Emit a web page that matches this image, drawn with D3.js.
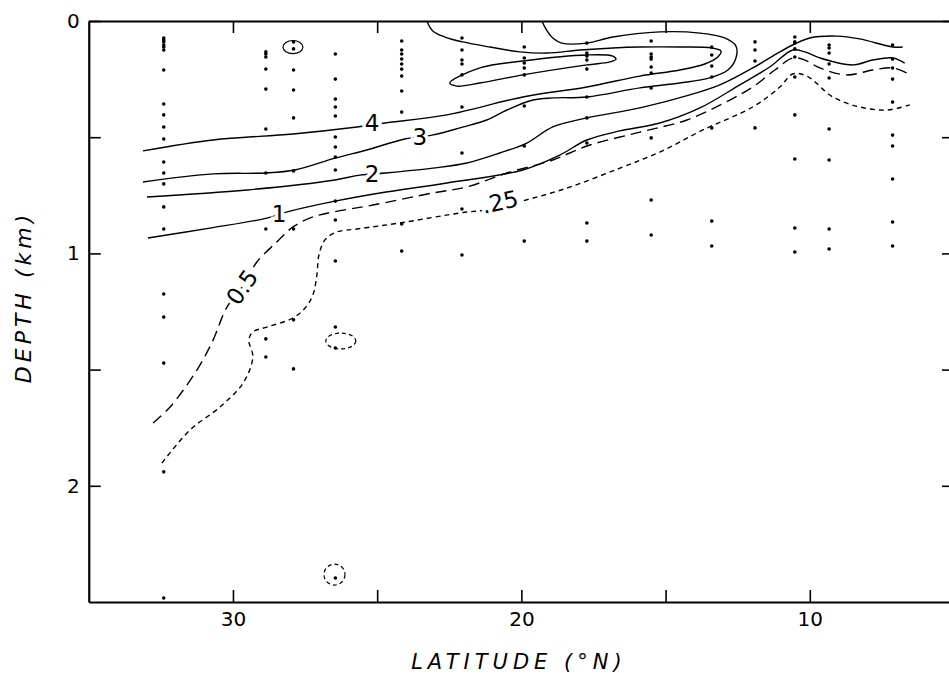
<!DOCTYPE html>
<html>
<head>
<meta charset="utf-8">
<script src="https://cdn.jsdelivr.net/npm/d3@7"></script>
<style>
  body { margin: 0; background: #fff; }
  text { font-family: "DejaVu Sans", sans-serif; fill: #000; }
</style>
</head>
<body>
<script>
// axis ticks
var xTicks = [30, 25, 20, 15, 10];
var yTicks = [0, 0.5, 1, 1.5, 2];

// station latitudes and sample depths (km)
var stationLat = [32.4, 28.86, 27.9, 26.45, 24.15, 22.06, 19.9, 17.73, 15.5, 13.4, 11.9, 10.52, 9.33, 7.13];
var stationDepths = [
    [0.073, 0.082, 0.090, 0.103, 0.112, 0.125, 0.211, 0.357, 0.404, 0.456, 0.508, 0.607, 0.654, 0.701, 0.800, 0.895, 1.175, 1.274, 1.472, 1.94, 2.483],
    [0.133, 0.142, 0.155, 0.207, 0.293, 0.465, 0.654, 0.895, 1.368, 1.446],
    [0.090, 0.120, 0.211, 0.297, 0.417, 0.645, 0.895, 1.286, 1.497],
    [0.142, 0.250, 0.336, 0.370, 0.409, 0.499, 0.542, 0.585, 0.641, 0.775, 0.856, 1.033, 1.317, 1.407, 2.397],
    [0.086, 0.125, 0.142, 0.164, 0.185, 0.207, 0.237, 0.301, 0.392, 0.873, 0.990],
    [0.073, 0.125, 0.168, 0.185, 0.232, 0.370, 0.568, 0.809, 1.007],
    [0.112, 0.159, 0.181, 0.202, 0.232, 0.366, 0.538, 0.947],
    [0.095, 0.138, 0.151, 0.168, 0.207, 0.327, 0.417, 0.525, 0.869, 0.947],
    [0.086, 0.142, 0.155, 0.164, 0.198, 0.224, 0.288, 0.503, 0.770, 0.921],
    [0.112, 0.146, 0.194, 0.241, 0.460, 0.861, 0.968],
    [0.090, 0.125, 0.172, 0.460],
    [0.069, 0.090, 0.095, 0.120, 0.155, 0.241, 0.404, 0.594, 0.891, 0.994],
    [0.103, 0.116, 0.138, 0.185, 0.245, 0.465, 0.598, 0.895, 0.981],
    [0.103, 0.164, 0.202, 0.250, 0.349, 0.491, 0.538, 0.680, 0.865, 0.968]
];

// contours as [latitude, depth]
var contour4 = [[33.12,0.559],[30.69,0.512],[27.92,0.486],[25.70,0.456],[24.73,0.439],[22.58,0.404],[19.95,0.327],
    [17.73,0.284],[15.89,0.237],[14.51,0.211],[13.64,0.185],[13.19,0.155],[13.08,0.129],[13.40,0.116],[14.51,0.112],
    [15.89,0.112],[16.83,0.116],[17.97,0.125],[19.12,0.138],[20.05,0.133],[21.09,0.112],[22.03,0.090],[22.65,0.069],
    [23.07,0.043],[23.28,0]];
var contour3 = [[33.12,0.693],[30.69,0.658],[28.89,0.654],[27.85,0.641],[26.46,0.590],[25.36,0.555],[24.04,0.508],
    [23.10,0.491],[22.13,0.460],[21.20,0.426],[20.50,0.383],[19.60,0.340],[18.91,0.331],[17.73,0.327],[15.89,0.288],
    [14.51,0.267],[13.47,0.245],[12.84,0.211],[12.56,0.159],[12.56,0.108],[12.95,0.073],[13.81,0.052],[15.20,0.047],
    [16.83,0.069],[17.73,0.095],[18.60,0.095],[18.91,0.073],[19.15,0.034],[19.29,0]];
var contour2 = [[32.98,0.757],[29.51,0.727],[26.46,0.684],[25.60,0.663],[24.73,0.654],[23.07,0.633],[21.89,0.611],
    [20.75,0.568],[19.81,0.525],[18.91,0.456],[17.73,0.417],[15.89,0.374],[14.16,0.318],[13.12,0.275],[11.98,0.202],
    [11.04,0.133],[10.52,0.099],[10.0,0.073],[9.06,0.065],[8.27,0.077],[7.12,0.112],[6.78,0.112]];
var contour1 = [[32.95,0.934],[30.80,0.891],[28.82,0.848],[28.02,0.818],[26.46,0.775],[24.90,0.740],[22.58,0.697],
    [19.95,0.641],[18.67,0.577],[17.73,0.512],[16.59,0.473],[15.20,0.439],[13.81,0.374],[12.43,0.275],[11.39,0.198],
    [10.59,0.125],[10.17,0.133],[9.65,0.159],[8.51,0.189],[7.82,0.168],[7.12,0.159],[6.71,0.181]];
var contour05 = [[32.77,1.730],[32.18,1.661],[31.25,1.502],[30.69,1.373],[30.21,1.231],[29.68,1.145],[29.17,1.037],
    [28.48,0.951],[27.92,0.886],[27.23,0.843],[26.53,0.822],[25.15,0.792],[23.07,0.740],[21.89,0.714],[20.50,0.654],
    [18.91,0.598],[17.73,0.538],[15.89,0.478],[14.26,0.426],[12.77,0.340],[11.98,0.284],[11.21,0.211],[10.59,0.159],
    [10.17,0.168],[9.65,0.202],[8.72,0.232],[7.82,0.211],[7.12,0.202],[6.64,0.224]];
var contour025 = [[32.46,1.902],[31.49,1.760],[30.45,1.661],[29.65,1.558],[29.31,1.446],[29.45,1.373],[29.31,1.338],
    [28.82,1.317],[27.92,1.278],[27.50,1.235],[27.23,1.179],[27.09,1.093],[27.02,1.007],[26.81,0.942],[26.40,0.908],
    [25.70,0.895],[24.21,0.869],[22.13,0.826],[21.27,0.813],[20.23,0.783],[18.42,0.719],[16.58,0.633],[15.20,0.564],
    [13.71,0.469],[11.98,0.370],[11.04,0.284],[10.59,0.228],[10.10,0.237],[9.20,0.327],[8.27,0.370],[7.33,0.383],
    [6.53,0.361]];
var loop5 = [[22.48,0.267],[21.44,0.202],[19.95,0.172],[17.73,0.146],[16.83,0.151],[16.72,0.164],[16.93,0.176],
    [17.73,0.189],[19.95,0.232],[21.44,0.267],[22.24,0.280]];

var contourLabels = [
    {text: "4", lat: 25.18, depth: 0.439, angle: 0},
    {text: "3", lat: 23.52, depth: 0.499, angle: 0},
    {text: "2", lat: 25.18, depth: 0.658, angle: 0},
    {text: "1", lat: 28.40, depth: 0.830, angle: 0},
    {text: "0.5", lat: 29.68, depth: 1.145, angle: -55},
    {text: ".25", lat: 20.74, depth: 0.779, angle: -12}
];

// circled samples: [lat, depth, rLat, rDepth, dashed]
var circles = [
    [27.92, 0.112, 0.347, 0.028, false],
    [26.26, 1.377, 0.52, 0.034, true],
    [26.48, 2.382, 0.364, 0.045, true]
];

var width = 949, height = 673;

var x = d3.scaleLinear().domain([35, 5]).range([88.75, 954]);
var y = d3.scaleLinear().domain([0, 2.5]).range([21, 602]);

var svg = d3.select("body").append("svg")
    .attr("width", width)
    .attr("height", height);

svg.append("defs").append("clipPath").attr("id", "plot")
    .append("rect")
    .attr("x", x(35)).attr("y", y(0))
    .attr("width", x(5) - x(35)).attr("height", y(2.5) - y(0));

var plot = svg.append("g").attr("clip-path", "url(#plot)");

var line = d3.line()
    .x(function (d) { return x(d[0]); })
    .y(function (d) { return y(d[1]); })
    .curve(d3.curveCatmullRom.alpha(0.5));

var contours = [
    {pts: contour4, dash: null},
    {pts: contour3, dash: null},
    {pts: contour2, dash: null},
    {pts: contour1, dash: null},
    {pts: contour05, dash: "11,6"},
    {pts: contour025, dash: "5,4"}
];

plot.selectAll(".contour")
    .data(contours)
    .enter().append("path")
    .attr("class", "contour")
    .attr("d", function (d) { return line(d.pts); })
    .attr("fill", "none")
    .attr("stroke", "#000")
    .attr("stroke-width", 1.4)
    .attr("stroke-dasharray", function (d) { return d.dash; });

plot.append("path")
    .attr("d", d3.line()
        .x(function (d) { return x(d[0]); })
        .y(function (d) { return y(d[1]); })
        .curve(d3.curveCatmullRomClosed.alpha(0.5))(loop5))
    .attr("fill", "none")
    .attr("stroke", "#000")
    .attr("stroke-width", 1.4);

plot.selectAll(".circ")
    .data(circles)
    .enter().append("ellipse")
    .attr("class", "circ")
    .attr("cx", function (d) { return x(d[0]); })
    .attr("cy", function (d) { return y(d[1]); })
    .attr("rx", function (d) { return x(d[0] - d[2]) - x(d[0]); })
    .attr("ry", function (d) { return y(d[1] + d[3]) - y(d[1]); })
    .attr("fill", "none")
    .attr("stroke", "#000")
    .attr("stroke-width", 1.2)
    .attr("stroke-dasharray", function (d) { return d[4] ? "4,3" : null; });

// sample points
var samples = [];
stationLat.forEach(function (lat, i) {
    stationDepths[i].forEach(function (dep) { samples.push([lat, dep]); });
});

plot.selectAll(".pt")
    .data(samples)
    .enter().append("circle")
    .attr("class", "pt")
    .attr("cx", function (d) { return x(d[0]); })
    .attr("cy", function (d) { return y(d[1]); })
    .attr("r", 1.8)
    .attr("fill", "#000");

// contour labels, white halo cuts the line
svg.selectAll(".clabel")
    .data(contourLabels)
    .enter().append("text")
    .attr("class", "clabel")
    .attr("transform", function (d) { return "translate(" + x(d.lat) + "," + y(d.depth) + ") rotate(" + d.angle + ")"; })
    .attr("text-anchor", "middle")
    .attr("dominant-baseline", "central")
    .attr("font-size", 23)
    .attr("stroke", "#fff")
    .attr("stroke-width", 7)
    .attr("paint-order", "stroke")
    .text(function (d) { return d.text; });

// axes
var gBottom = svg.append("g")
    .attr("transform", "translate(0," + y(2.5) + ")")
    .call(d3.axisBottom(x).tickValues(xTicks).tickSizeInner(-12).tickSizeOuter(0).tickPadding(10)
        .tickFormat(function (d) { return d % 10 === 0 ? d : ""; }));

var gTop = svg.append("g")
    .attr("transform", "translate(0," + y(0) + ")")
    .call(d3.axisTop(x).tickValues(xTicks).tickSizeInner(-12).tickSizeOuter(0).tickFormat(""));

var gLeft = svg.append("g")
    .attr("transform", "translate(" + x(35) + ",0)")
    .call(d3.axisLeft(y).tickValues(yTicks).tickSizeInner(-12).tickSizeOuter(0).tickPadding(9)
        .tickFormat(function (d) { return d % 1 === 0 ? d : ""; }));

var gRight = svg.append("g")
    .attr("transform", "translate(" + x(5) + ",0)")
    .call(d3.axisRight(y).tickValues(yTicks).tickSizeInner(-12).tickSizeOuter(0).tickFormat(""));

[gBottom, gTop, gLeft, gRight].forEach(function (g) {
    g.select(".domain").attr("stroke-width", 2.2);
    g.selectAll(".tick line").attr("stroke-width", 1.6);
    g.selectAll(".tick text")
        .attr("font-family", "DejaVu Sans, sans-serif")
        .attr("font-size", 20)
        .attr("fill", "#000");
});

svg.append("text")
    .attr("x", (x(35) + 949) / 2)
    .attr("y", 669)
    .attr("text-anchor", "middle")
    .attr("font-size", 21)
    .attr("font-style", "italic")
    .attr("letter-spacing", 5)
    .text("LATITUDE (°N)");

svg.append("text")
    .attr("transform", "translate(31,297) rotate(-90)")
    .attr("text-anchor", "middle")
    .attr("font-size", 22)
    .attr("font-style", "italic")
    .attr("letter-spacing", 4)
    .text("DEPTH (km)");
</script>
</body>
</html>
